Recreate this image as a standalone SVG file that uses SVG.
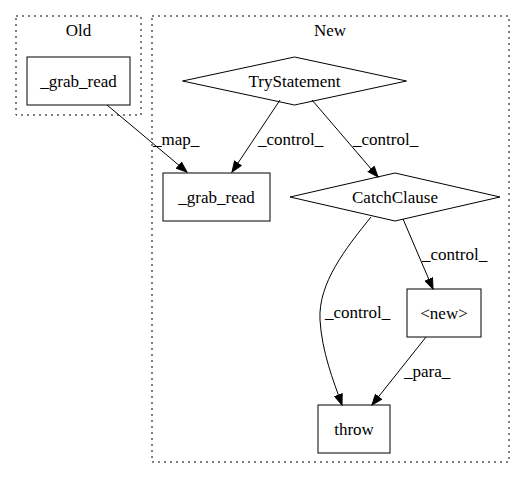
<svg xmlns="http://www.w3.org/2000/svg" width="525" height="480" viewBox="0 0 525 480">
<style>
text{font-family:"Liberation Serif","Times New Roman",serif;font-size:17px;fill:#000}
.n{text-anchor:middle}
.shape{fill:none;stroke:#000;stroke-width:1}
.cl{fill:none;stroke:#000;stroke-width:1;stroke-dasharray:2,4}
.e{fill:none;stroke:#000;stroke-width:1;marker-end:url(#ah)}
</style>
<defs>
<marker id="ah" markerUnits="userSpaceOnUse" markerWidth="12" markerHeight="9" refX="11" refY="4.5" orient="auto">
<path d="M0.5,0.5 L11,4.5 L0.5,8.5 z" fill="#000" stroke="#000"/>
</marker>
</defs>
<rect width="525" height="480" fill="#fff"/>
<g id="cluster_old">
<rect class="cl" x="16" y="16" width="125" height="99"/>
<text class="n" x="78.5" y="36">Old</text>
</g>
<g id="cluster_new">
<rect class="cl" x="152" y="16" width="357" height="446"/>
<text class="n" x="330" y="36">New</text>
</g>
<g id="old_grab_read">
<rect class="shape" x="27" y="57" width="103" height="48"/>
<text class="n" x="78.5" y="87">_grab_read</text>
</g>
<g id="try_statement">
<polygon class="shape" points="294.5,57 406.5,81 294.5,105 182.5,81"/>
<text class="n" x="294.5" y="87">TryStatement</text>
</g>
<g id="new_grab_read">
<rect class="shape" x="163" y="173" width="107" height="48"/>
<text class="n" x="216.5" y="203">_grab_read</text>
</g>
<g id="catch_clause">
<polygon class="shape" points="395,173 500,197 395,221 290,197"/>
<text class="n" x="395" y="203">CatchClause</text>
</g>
<g id="new_node">
<rect class="shape" x="407" y="289" width="74" height="48"/>
<text class="n" x="444" y="319">&lt;new&gt;</text>
</g>
<g id="throw">
<rect class="shape" x="318" y="405" width="72" height="48"/>
<text class="n" x="354" y="435">throw</text>
</g>
<g id="connectors">
<path class="e" d="M107,105 L187,172"/>
<text x="153" y="145">_map_</text>
<path class="e" d="M280,100 L232,172"/>
<text x="258" y="145">_control_</text>
<path class="e" d="M312,100 L378,177"/>
<text x="353" y="145">_control_</text>
<path class="e" d="M371,217 C346,248 318,283 320,320 C322,352 333,380 342,405"/>
<text x="325" y="318">_control_</text>
<path class="e" d="M403,219 L433,289"/>
<text x="422" y="260">_control_</text>
<path class="e" d="M426,337 L372,405"/>
<text x="404" y="377">_para_</text>
</g>
</svg>
